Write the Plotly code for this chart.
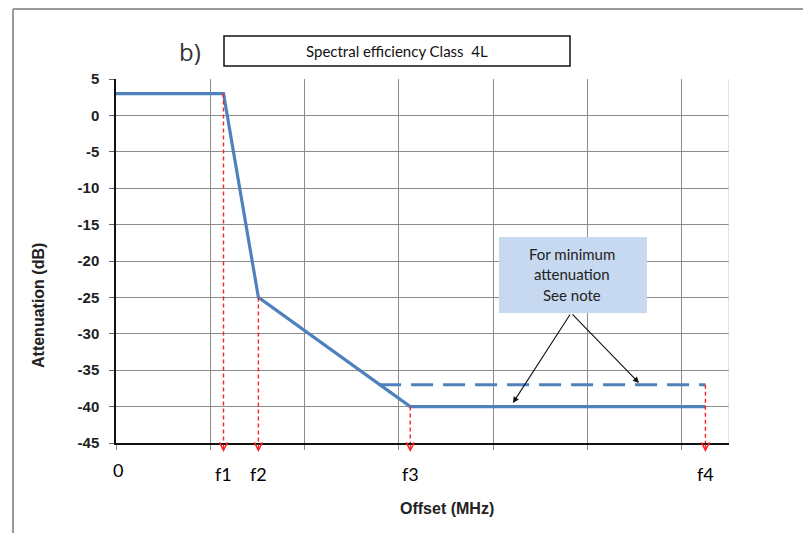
import plotly.graph_objects as go

# ---- data ----
mask_x = [0, 1.14, 1.51, 3.12, 6.25]
mask_y = [3, 3, -25, -40, -40]
min_x = [2.79, 6.25]
min_y = [-37, -37]
marker_x = [1.14, 1.51, 3.12, 6.25]
marker_top = [3, -25, -40, -37]
marker_labels = ["f1", "f2", "f3", "f4"]
y_ticks = [5, 0, -5, -10, -15, -20, -25, -30, -35, -40, -45]

W, H = 803, 533
L, R, T, B = 116, 74, 79, 90
pw, ph = W - L - R, H - T - B


def px(x):
    return (x - L) / pw


def py(y):
    return (H - B - y) / ph


BLUE = "#4f81bd"
fig = go.Figure()

fig.add_trace(go.Scatter(x=mask_x, y=mask_y, mode="lines",
                         line=dict(color=BLUE, width=3.2), hoverinfo="skip"))
fig.add_trace(go.Scatter(x=min_x, y=min_y, mode="lines",
                         line=dict(color=BLUE, width=3, dash="22px,10px"), hoverinfo="skip"))
for fx, top in zip(marker_x, marker_top):
    fig.add_trace(go.Scatter(x=[fx, fx], y=[top, -45], mode="lines",
                             line=dict(color="#ff2020", width=1.4, dash="4px,3px"), hoverinfo="skip"))

annotations = []
shapes = []


def text(x, y, s, size, family="Lato", color="#222", **kw):
    d = dict(x=x, y=y, xref="paper", yref="paper", text=s, showarrow=False,
             xanchor="center", yanchor="middle",
             font=dict(family=family, size=size, color=color))
    d.update(kw)
    annotations.append(d)


# red arrow heads below axis
for fx in marker_x:
    annotations.append(dict(x=fx, y=py(452), xref="x", yref="paper", ax=0, ay=-9,
                            axref="pixel", ayref="pixel", text="", showarrow=True,
                            arrowhead=5, arrowsize=1.3, arrowwidth=1.2, arrowcolor="#ff2020",
                            standoff=0))

# x labels
text(px(118), py(470), "0", 18, color="#000")
for fx, lab in zip(marker_x, marker_labels):
    annotations.append(dict(x=fx, y=py(474), xref="x", yref="paper", text=lab,
                            showarrow=False, xanchor="center", yanchor="middle",
                            font=dict(family="Lato", size=18, color="#000")))

text(px(447), py(508), "<b>Offset (MHz)</b>", 16, family="Liberation Sans")
text(px(38), py(306), "<b>Attenuation (dB)</b>", 16, family="Liberation Sans", textangle=-90)

# title
text(px(190), py(51), "b)", 24, family="Open Sans", color="#333")
shapes.append(dict(type="rect", xref="paper", yref="paper", x0=px(224), x1=px(570),
                   y0=py(66), y1=py(36), line=dict(color="#111", width=1.5)))
text(px(397), py(51), "Spectral efficiency Class  4L", 15, color="#111")

# note box
shapes.append(dict(type="rect", xref="paper", yref="paper", x0=px(499), x1=px(647),
                   y0=py(313), y1=py(237), fillcolor="#c6d9f0", line=dict(width=0), layer="above"))
for txt, yy in [("For minimum", 254), ("attenuation", 274), ("See note", 295)]:
    text(px(572), py(yy), txt, 15)
for tx, ty in [(4.209, -39.5), (5.546, -36.76)]:
    annotations.append(dict(x=tx, y=ty, xref="x", yref="y", ax=4.825, ay=-27.14,
                            axref="x", ayref="y", text="", showarrow=True, arrowhead=2,
                            arrowsize=1.1, arrowwidth=1.1, arrowcolor="#111", standoff=0))

# right plot edge and outer frame
shapes.append(dict(type="line", xref="x", yref="y", x0=6.5, x1=6.5, y0=-45, y1=5,
                   line=dict(color="#c8c8c8", width=1)))
shapes.append(dict(type="line", xref="paper", yref="paper", x0=px(13), x1=px(13),
                   y0=py(533), y1=py(9), line=dict(color="#9a9a9a", width=2)))
shapes.append(dict(type="line", xref="paper", yref="paper", x0=px(13), x1=px(803),
                   y0=py(9), y1=py(9), line=dict(color="#9a9a9a", width=2)))

fig.update_layout(
    width=W, height=H, margin=dict(l=L, r=R, t=T, b=B),
    paper_bgcolor="white", plot_bgcolor="white", showlegend=False,
    annotations=annotations, shapes=shapes,
    xaxis=dict(range=[0, 6.5], dtick=1, tick0=0, showgrid=True, gridcolor="#8c8c8c", gridwidth=1,
               showticklabels=False, ticks="outside", ticklen=5, tickcolor="#8c8c8c",
               showline=True, linecolor="#111", linewidth=1.5, zeroline=False, fixedrange=True),
    yaxis=dict(range=[-45, 5], tickvals=y_ticks, ticktext=["<b>%d</b>" % v for v in y_ticks],
               showgrid=True, gridcolor="#8c8c8c", gridwidth=1, ticks="outside", ticklen=5,
               tickcolor="#666", showline=True, linecolor="#111", linewidth=1.5, zeroline=False,
               ticklabelstandoff=7,
               tickfont=dict(family="Liberation Sans", size=15, color="#1f1f1f"),
               fixedrange=True),
)

fig.write_html("out.html", config={"displayModeBar": False},
               post_script="document.body.style.margin='0';document.body.style.padding='0';")
